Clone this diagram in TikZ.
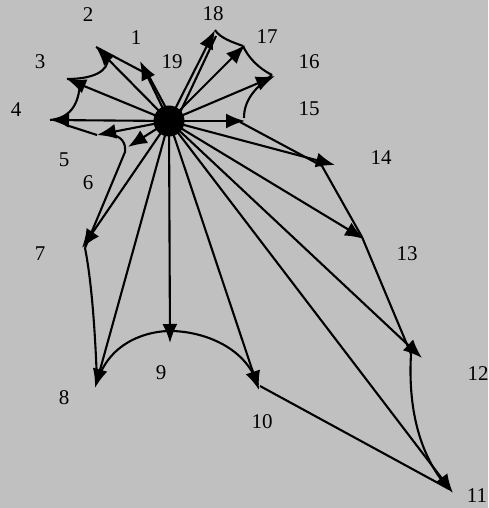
\documentclass[tikz,border=0pt]{standalone}
\usepackage{fontspec}
\setmainfont{Liberation Serif}
\usetikzlibrary{arrows.meta,calc}
\definecolor{bg}{RGB}{192,192,192}
\begin{document}
\begin{tikzpicture}[x=1pt,y=-1pt,line width=2.1pt,
  arr/.style={-{Latex[length=19pt,width=15pt]}},
  lab/.style={font=\fontsize{21}{24}\selectfont,inner sep=0pt}]
\fill[bg] (0,0) rectangle (488,508);
\useasboundingbox (0,0) rectangle (488,508);
% points (arrow tips)
\coordinate (C) at (169,121);
\coordinate (P1) at (140,61);
\coordinate (P2) at (96,47);
\coordinate (P3) at (67,79);
\coordinate (P4) at (50,120);
\coordinate (P5) at (97,135);
\coordinate (P6) at (128,147);
\coordinate (P7) at (82,248);
\coordinate (P8) at (95,388);
\coordinate (P9) at (170,343);
\coordinate (P10) at (259,390);
\coordinate (P11) at (453,493);
\coordinate (P12) at (422,358);
\coordinate (P13) at (364,239);
\coordinate (P14) at (335,165);
\coordinate (P15) at (245,121);
\coordinate (P16) at (275,76);
\coordinate (P17) at (245,45);
\coordinate (P18) at (215,30);
% auxiliary ends
\coordinate (C1b) at (173,121);
\coordinate (C18b) at (176,121);
\coordinate (P1c) at (144,67);
\coordinate (P18c) at (216,36);
\coordinate (P1b) at (147,74);
\coordinate (P2b) at (108,57);
\coordinate (P3b) at (80,82);
\coordinate (P4b) at (66,125);
\coordinate (P5b) at (109,134);
\coordinate (P6b) at (125,152);
\coordinate (P7b) at (85,248);
\coordinate (P8b) at (97,382);
\coordinate (P9b) at (170,331);
\coordinate (P10b) at (258,385);
\coordinate (P10c) at (260,386);
\coordinate (P11b) at (449,489);
\coordinate (P12b) at (411,354);
\coordinate (P13b) at (362,237);
\coordinate (P14b) at (322,166);
\coordinate (P15b) at (240,122);
\coordinate (P15c) at (244,118);
\coordinate (P16b) at (272,75);
\coordinate (P17b) at (243,46);
% radial arrows
\foreach \p in {P1,P2,P3,P4,P5,P6,P7,P8,P9,P10,P11,P12,P13,P14,P15,P16,P17,P18}
  \draw[arr] (C) -- (\p);
\draw (C1b) -- (P1c);
\draw (C18b) -- (P18c);
% boundary
\draw (P1b) -- (P2);
\draw (P2b) .. controls (109,72) and (92,79) .. (P3);
\draw (P3b) .. controls (79,105) and (70,118) .. (P4);
\draw (P4b) -- (P5);
\draw (P5b) .. controls (122,136) and (126,143) .. (P6b) -- (P7b);
\draw (P7b) .. controls (91,278) and (95,325) .. (P8b);
\draw (P8b) .. controls (110,340) and (150,331) .. (P9b)
             .. controls (200,331) and (245,345) .. (P10b);
\draw (P10c) -- (P11b);
\draw (P12b) .. controls (408,405) and (418,455) .. (P11b);
\draw (P13b) -- (P12b);
\draw (P14b) -- (P13b);
\draw (P15b) -- (P14b);
\draw (P15c) .. controls (244,100) and (255,88) .. (P16b);
\draw (P16b) .. controls (258,68) and (248,57) .. (P17b);
\draw (P17b) .. controls (232,42) and (220,38) .. (P18);
% center dot
\node[circle,fill=black,minimum size=31pt,inner sep=0pt] (c) at (C) {};
% labels
\node[lab] (l1) at (136,38) {1};
\node[lab] (l2) at (88,15) {2};
\node[lab] (l3) at (40,62) {3};
\node[lab] (l4) at (16,110) {4};
\node[lab] (l5) at (64,160) {5};
\node[lab] (l6) at (88,183) {6};
\node[lab] (l7) at (40,254) {7};
\node[lab] (l8) at (64,398) {8};
\node[lab] (l9) at (161,373) {9};
\node[lab] (l10) at (262,422) {10};
\node[lab] (l11) at (477,496) {11};
\node[lab] (l12) at (478,374) {12};
\node[lab] (l13) at (407,254) {13};
\node[lab] (l14) at (381,158) {14};
\node[lab] (l15) at (309,109) {15};
\node[lab] (l16) at (309,62) {16};
\node[lab] (l17) at (267,37) {17};
\node[lab] (l18) at (213,14) {18};
\node[lab] (l19) at (172,62) {19};
\end{tikzpicture}
\end{document}
